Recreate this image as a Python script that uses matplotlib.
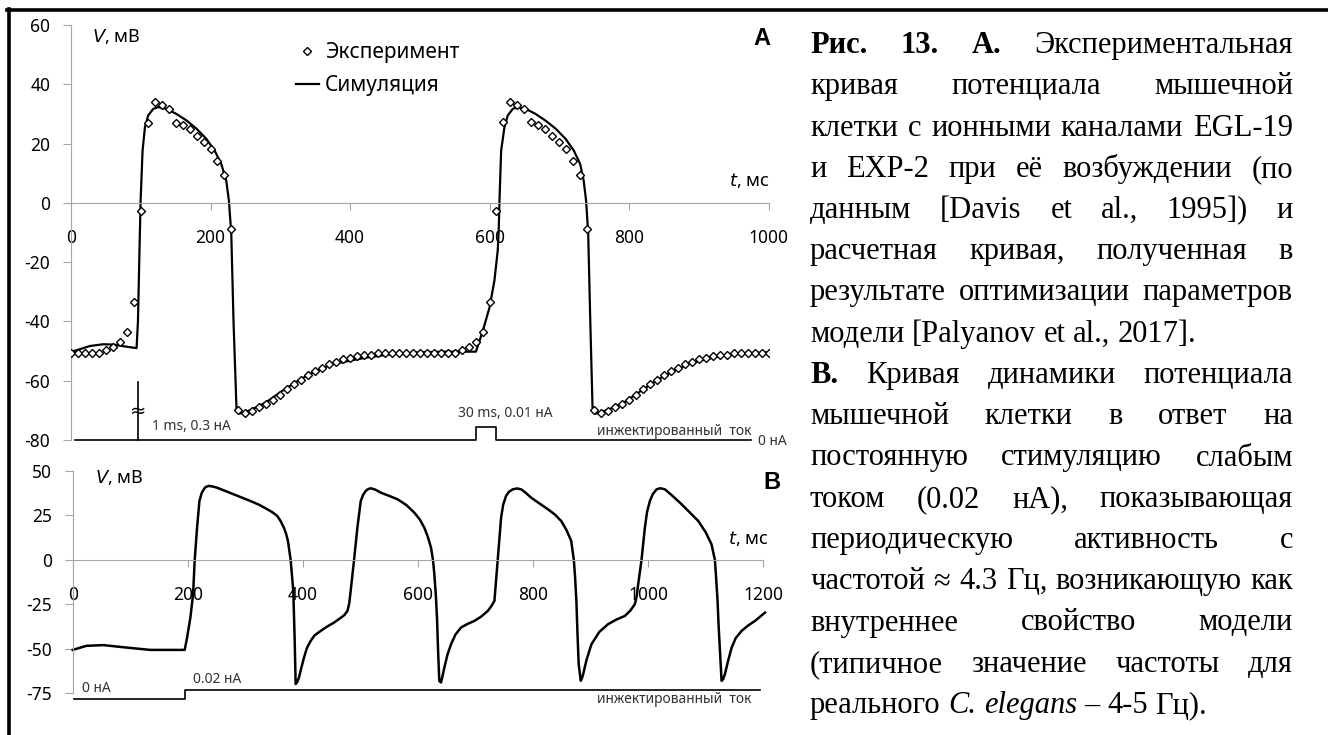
import matplotlib
matplotlib.use('Agg')
from matplotlib import pyplot as plt
from matplotlib.lines import Line2D

W, H = 1328, 735
AXIS_GRAY = '#a6a6a6'
LABEL_GRAY = '#333333'
SANS = 'Noto Sans'
SERIF = 'Liberation Serif'

# --- panel A: experiment (every 10 ms) and simulated membrane potential
exp_t = list(range(0, 1001, 10))
exp_v = [-50.5, -50.5, -50.5, -50.5, -50.5, -49.8, -48.5, -46.8, -43.4, -33.4,
         -2.9, 27.1, 33.9, 33.0, 31.6, 27.1, 26.2, 24.9, 22.6, 20.4,
         18.1, 14.2, 9.4, -8.7, -70.0, -70.8, -70.2, -69.0, -68.0, -66.5,
         -64.8, -62.9, -61.2, -59.7, -58.0, -56.7, -55.6, -54.4, -53.6, -52.8,
         -52.3, -51.7, -51.4, -51.2, -50.8, -50.6, -50.6, -50.6, -50.6, -50.6,
         -50.6, -50.5, -50.5, -50.5, -50.5, -50.5, -49.6, -48.5, -46.8, -43.4,
         -33.4, -2.9, 27.2, 34.0, 33.0, 31.6, 27.2, 26.2, 24.9, 22.6,
         20.4, 18.1, 14.2, 9.4, -8.7, -69.9, -70.8, -70.2, -69.0, -68.0,
         -66.5, -64.8, -62.9, -61.2, -59.7, -58.0, -56.7, -55.6, -54.4, -53.6,
         -52.8, -52.3, -51.7, -51.4, -51.2, -50.8, -50.6, -50.6, -50.6, -50.6,
         -50.6]

sim_a_t = [0, 15, 27, 46, 60, 79, 94, 96, 98, 99.8,
           102.6, 106, 110.7, 117.9, 125, 137, 151, 165.6, 180, 194,
           206, 215.5, 222.6, 226.4, 229.8, 233, 237.3, 241, 250, 260,
           279, 303, 327, 351, 375, 399, 423, 461, 500, 540,
           580.5, 585.6, 590.4, 600, 607, 611.8, 613.2, 614.3, 616.7, 621.4,
           626.2, 633.4, 640, 652, 666, 680, 695, 709, 721, 730,
           735, 738.5, 741.5, 744.5, 747.7, 752.5, 760, 770, 790, 815,
           840, 865, 890, 915, 940, 970, 1000]
sim_a_v = [-50.3, -49.2, -48.3, -47.7, -47.8, -48.5, -49.0, -40.0, -18.0, 0.7,
           17.6, 25.5, 29.5, 31.7, 32.3, 31.7, 30.0, 27.8, 25.0, 21.6,
           17.6, 13.1, 7.5, 0.7, -10.4, -40.0, -69.6, -71.1, -70.6, -69.6,
           -67.4, -63.4, -59.8, -56.7, -54.4, -53.3, -52.2, -51.0, -50.4, -50.2,
           -50.2, -46.6, -43.2, -35.3, -26.3, -16.1, -9.4, 0.7, 17.6, 25.5,
           29.5, 31.7, 32.3, 31.7, 30.0, 27.8, 25.0, 21.6, 17.6, 13.1,
           7.5, 0.7, -10.4, -40.0, -69.0, -71.1, -70.6, -69.8, -67.8, -63.8,
           -59.8, -56.5, -54.0, -52.5, -51.3, -50.7, -50.4]

# injected current trace, drawn along the bottom of panel A
inj_a_t = [6, 580, 580, 610, 610, 975]
inj_a_v = [-80, -80, -75.6, -75.6, -80, -80]
kick_t = [96.5, 96.5]
kick_v = [-80, -60.4]

# --- panel B: periodic activity under constant 0.02 nA
sim_b_t = [0, 24, 53, 94, 135, 194.6, 198.8, 204.5, 209.2, 212,
           216.1, 220.2, 224, 227.8, 231, 236.5, 243, 251, 265, 280,
           295, 309, 324, 338, 347, 355.5, 361, 367, 371, 374,
           378.7, 383.3, 385.6, 387.4, 390, 393.2, 397, 401.9, 407, 413.5,
           420, 431, 442, 454.2, 466, 472, 477.4, 480.5, 483, 488.9,
           494.7, 500.5, 504.5, 509.2, 513, 518, 526, 535.5, 550, 564.5,
           580, 593.5, 603, 611, 617, 622.6, 626, 628.4, 631, 633,
           635, 637, 640, 642.5, 645.8, 651, 657.4, 665, 674.8, 686,
           698, 710, 721.2, 727.5, 732.8, 735.5, 738.6, 741.5, 744.4, 748,
           753, 758, 764.7, 772, 779.2, 787, 796.6, 811, 825.6, 838,
           848.8, 858, 866.2, 870.8, 873, 875.2, 877.2, 879.2, 882.8, 885,
           887, 893, 901.4, 915, 930.4, 945, 959.4, 969, 976.8, 980,
           982.6, 988.4, 994.2, 998, 1002.9, 1008, 1014.5, 1021, 1029, 1043,
           1058, 1072, 1087, 1100, 1110, 1115.9, 1118, 1120.5, 1122.5, 1124.6,
           1127.5, 1130, 1133.3, 1139, 1145, 1152, 1162.3, 1174, 1185.6, 1203]
sim_b_v = [-50.6, -48.3, -47.9, -49.3, -50.6, -50.6, -43.6, -32.4, -19.3, 0.0,
           18.2, 33.1, 37.5, 39.7, 41.0, 41.6, 41.3, 40.6, 38.8, 36.9,
           35.0, 33.1, 31.0, 28.5, 26.8, 24.7, 22.0, 18.1, 14.5, 10.7,
           0.0, -17.4, -43.6, -69.8, -68.8, -66.1, -61.0, -54.9, -49.5, -45.5,
           -42.5, -39.9, -37.5, -35.2, -32.5, -31.0, -28.7, -24.5, -17.4, 0.0,
           18.2, 33.1, 36.5, 38.8, 39.8, 40.3, 39.5, 37.8, 36.0, 34.1,
           30.8, 26.6, 22.8, 18.1, 13.0, 6.9, 0.0, -8.0, -20.0, -32.4,
           -52.0, -68.0, -68.9, -65.5, -60.5, -53.5, -47.4, -42.0, -38.0, -36.0,
           -34.3, -31.8, -28.7, -26.0, -23.0, -12.0, 0.0, 12.0, 23.8, 31.0,
           36.0, 38.3, 39.7, 40.2, 39.7, 37.8, 35.0, 31.8, 28.5, 25.5,
           21.9, 16.8, 10.7, 0.0, -10.0, -23.0, -42.0, -58.6, -68.0, -66.5,
           -64.2, -56.0, -47.4, -40.5, -36.1, -33.5, -31.5, -28.5, -24.9, -20.5,
           -13.7, 0.0, 18.1, 27.0, 33.1, 37.0, 39.7, 40.3, 39.7, 35.8,
           31.3, 26.8, 21.9, 15.5, 8.8, 0.0, -10.0, -23.0, -38.0, -51.1,
           -68.0, -67.2, -64.2, -56.5, -49.3, -44.0, -39.9, -36.8, -34.3, -29.6]

inj_b_t = [2, 194.6, 194.6, 1194]
inj_b_v = [-78.3, -78.3, -73.0, -73.0]

xticks_a = [0, 200, 400, 600, 800, 1000]
yticks_a = [-80, -60, -40, -20, 0, 20, 40, 60]
xticks_b = [0, 200, 400, 600, 800, 1000, 1200]
yticks_b = [-75, -50, -25, 0, 25, 50]

B, N, I = 'bold', 'normal', 'italic'
caption_lines = [
    ([('Рис.', B), ('13.', B), ('А.', B), ('Экспериментальная', N)], True),
    ([('кривая', N), ('потенциала', N), ('мышечной', N)], True),
    ([('клетки', N), ('с', N), ('ионными', N), ('каналами', N), ('EGL-19', N)], True),
    ([('и', N), ('EXP-2', N), ('при', N), ('её', N), ('возбуждении', N), ('(по', N)], True),
    ([('данным', N), ('[Davis', N), ('et', N), ('al.,', N), ('1995])', N), ('и', N)], True),
    ([('расчетная', N), ('кривая,', N), ('полученная', N), ('в', N)], True),
    ([('результате', N), ('оптимизации', N), ('параметров', N)], True),
    ([('модели', N), ('[Palyanov', N), ('et', N), ('al.,', N), ('2017].', N)], False),
    ([('В.', B), ('Кривая', N), ('динамики', N), ('потенциала', N)], True),
    ([('мышечной', N), ('клетки', N), ('в', N), ('ответ', N), ('на', N)], True),
    ([('постоянную', N), ('стимуляцию', N), ('слабым', N)], True),
    ([('током', N), ('(0.02', N), ('нА),', N), ('показывающая', N)], True),
    ([('периодическую', N), ('активность', N), ('с', N)], True),
    ([('частотой', N), ('≈', N), ('4.3', N), ('Гц,', N), ('возникающую', N), ('как', N)], True),
    ([('внутреннее', N), ('свойство', N), ('модели', N)], True),
    ([('(типичное', N), ('значение', N), ('частоты', N), ('для', N)], True),
    ([('реального', N), ('C.', I), ('elegans', I), ('–', N), ('4-5', N), ('Гц).', N)], False),
]


def fx(px):
    return px / W


def fy(py):
    return 1 - py / H


def setup_axes(ax, xticks, yticks):
    for s in ('top', 'right'):
        ax.spines[s].set_visible(False)
    for s in ('left', 'bottom'):
        ax.spines[s].set_position(('data', 0))
        ax.spines[s].set_color(AXIS_GRAY)
        ax.spines[s].set_linewidth(0.8)
    ax.set_xticks(xticks)
    ax.set_yticks(yticks)
    ax.set_xlim(xticks[0], xticks[-1])
    ax.set_ylim(yticks[0], yticks[-1])
    ax.tick_params(axis='x', direction='out', length=5, width=0.8, color=AXIS_GRAY,
                   pad=14, labelsize=12.5)
    ax.tick_params(axis='y', direction='out', length=5.8, width=0.8, color=AXIS_GRAY,
                   pad=9, labelsize=12.5)
    ax.patch.set_alpha(0)


def main():
    plt.rcParams['font.family'] = [SANS, 'DejaVu Sans']
    plt.rcParams['axes.unicode_minus'] = False
    fig = plt.figure(figsize=(W / 100, H / 100), dpi=100)

    # panel A
    ax_a = fig.add_axes([fx(71), fy(440), fx(768.5) - fx(71), fy(25) - fy(440)])
    setup_axes(ax_a, xticks_a, yticks_a)
    ax_a.plot(exp_t, exp_v, linestyle='none', marker='D', markersize=4.4,
              markerfacecolor='white', markeredgecolor='black', markeredgewidth=1.0,
              label='Эксперимент', zorder=3)
    ax_a.plot(sim_a_t, sim_a_v, color='black', linewidth=1.6, label='Симуляция', zorder=2)
    ax_a.plot(inj_a_t, inj_a_v, color='black', linewidth=1.2, clip_on=False)
    ax_a.plot(kick_t, kick_v, color='black', linewidth=1.2, clip_on=False)
    ax_a.text(96.5, -70.5, '≈', fontsize=14, ha='center', va='center')
    ax_a.text(116, -75.6, '1 ms, 0.3 нА', fontsize=10, color=LABEL_GRAY, va='center')
    ax_a.text(622, -71.1, '30 ms, 0.01 нА', fontsize=10, color=LABEL_GRAY,
              ha='center', va='center')
    ax_a.text(754, -77, 'инжектированный  ток', fontsize=10, color=LABEL_GRAY, va='center')
    ax_a.text(985, -80.6, '0 нА', fontsize=10, color=LABEL_GRAY, va='center', clip_on=False)
    ax_a.text(30, 56, '$\\it{V}$, мВ', fontsize=13, va='center')
    ax_a.text(1002, 7.5, '$\\it{t}$, мс', fontsize=13, ha='right', va='center')
    ax_a.text(990, 55.5, 'A', fontsize=17, family='Liberation Sans', fontweight='bold',
              ha='center', va='center')
    ax_a.legend(loc='upper left', bbox_to_anchor=(fx(296), fy(42)),
                bbox_transform=fig.transFigure, frameon=False, fontsize=15,
                handlelength=1.1, handletextpad=0.3, labelspacing=0.6, borderpad=0,
                borderaxespad=0)

    # panel B
    ax_b = fig.add_axes([fx(72.7), fy(693.3), fx(763.3) - fx(72.7), fy(471) - fy(693.3)])
    setup_axes(ax_b, xticks_b, yticks_b)
    ax_b.plot(sim_b_t, sim_b_v, color='black', linewidth=1.8, clip_on=False)
    ax_b.plot(inj_b_t, inj_b_v, color='black', linewidth=1.2, clip_on=False)
    ax_b.text(17, -72.3, '0 нА', fontsize=10, color=LABEL_GRAY, va='center')
    ax_b.text(209.6, -67.4, '0.02 нА', fontsize=10, color=LABEL_GRAY, va='center')
    ax_b.text(911.5, -78.3, 'инжектированный  ток', fontsize=10, color=LABEL_GRAY,
              va='center', clip_on=False)
    ax_b.text(38.7, 46.6, '$\\it{V}$, мВ', fontsize=13, va='center')
    ax_b.text(1208.7, 12.2, '$\\it{t}$, мс', fontsize=13, ha='right', va='center')
    ax_b.text(1214.6, 43.4, 'B', fontsize=17, family='Liberation Sans', fontweight='bold',
              ha='center', va='center', clip_on=False)

    # frame lines along the top and left edges
    fig.add_artist(Line2D([fx(7), 1], [fy(10), fy(10)], color='black', linewidth=2.6,
                          transform=fig.transFigure))
    fig.add_artist(Line2D([fx(8.7), fx(8.7)], [fy(8.5), 0], color='black', linewidth=2.6,
                          transform=fig.transFigure))

    # justified caption on the right
    renderer = fig.canvas.get_renderer()
    left, right = 810, 1293
    first_base, step = 53, 41.25
    cap_size = 22

    def cap_text(s, style):
        return fig.text(0, 0, s, fontsize=cap_size, family=SERIF, va='baseline',
                        fontweight='bold' if style == B else 'normal',
                        fontstyle='italic' if style == I else 'normal')

    probe1 = cap_text('а а', N)
    probe2 = cap_text('аа', N)
    space_w = probe1.get_window_extent(renderer).width - probe2.get_window_extent(renderer).width
    probe1.remove()
    probe2.remove()

    for i, (words, justify) in enumerate(caption_lines):
        y = fy(first_base + i * step)
        texts = [cap_text(w, s) for w, s in words]
        widths = [t.get_window_extent(renderer).width for t in texts]
        if justify and len(words) > 1:
            gap = (right - left - sum(widths)) / (len(words) - 1)
        else:
            gap = space_w
        x = left
        for t, w in zip(texts, widths):
            t.set_position((fx(x), y))
            x += w + gap

    fig.savefig('out.png', dpi=100)


if __name__ == '__main__':
    main()
